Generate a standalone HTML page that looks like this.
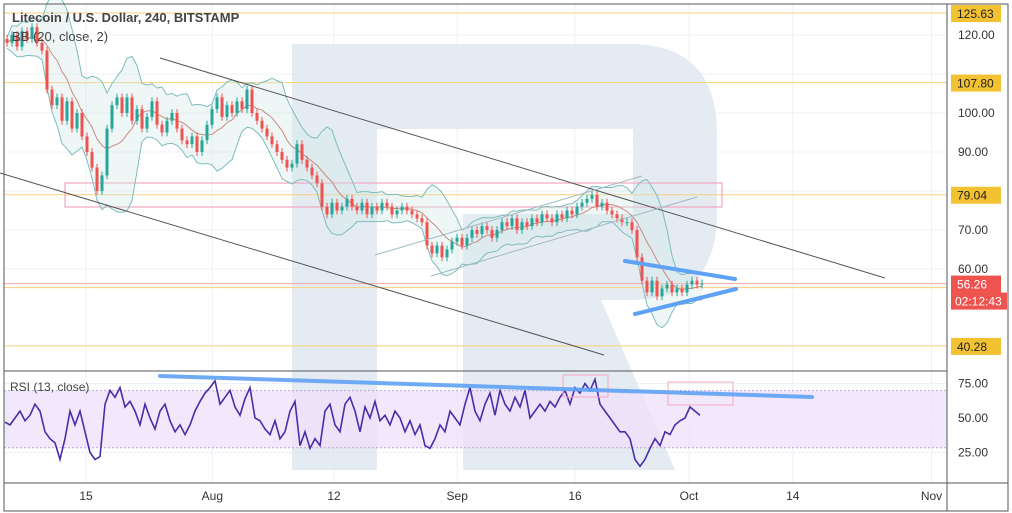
<!DOCTYPE html>
<html><head><meta charset="utf-8"><style>
body{margin:0;background:#fff;font-family:"Liberation Sans",sans-serif}
svg{display:block}
</style></head><body>
<svg id="c" width="1012" height="513" viewBox="0 0 1012 513" xmlns="http://www.w3.org/2000/svg">
<rect width="1012" height="513" fill="#fff"/>
<g id="grid"></g>
<path d="M292 44 H630 Q717 44 717 134 V215 Q717 300 630 300 H601 L675 470 H463 V214 H633 V129 H377 V470 H292 Z" fill="#dfe6f0" fill-opacity="0.8"/>
<rect x="4" y="390.6" width="943" height="57" fill="#ede0fb" fill-opacity="0.75"/>
<line x1="4" y1="390.6" x2="947" y2="390.6" stroke="#b9a6d6" stroke-dasharray="2,2"/>
<line x1="4" y1="447.7" x2="947" y2="447.7" stroke="#b9a6d6" stroke-dasharray="2,2"/>
<g id="levels"></g>
<rect x="65" y="183" width="657" height="24" fill="none" stroke="#f4a7bf" stroke-width="1.2"/>
<g id="bb"></g>
<g id="candles"></g>
<g>
<line x1="160" y1="58" x2="885" y2="278" stroke="#555" stroke-width="1"/>
<line x1="0" y1="173" x2="604" y2="355" stroke="#555" stroke-width="1"/>
<line x1="375" y1="255" x2="642" y2="176" stroke="#9fb8c4" stroke-width="1"/>
<line x1="431" y1="276" x2="697" y2="197" stroke="#9fb8c4" stroke-width="1"/>
<line x1="625" y1="261" x2="735" y2="279" stroke="#5fa2f4" stroke-width="4" stroke-linecap="round"/>
<line x1="635" y1="314" x2="736" y2="289" stroke="#5fa2f4" stroke-width="4" stroke-linecap="round"/>
</g>
<g id="rsi"></g>
<rect x="563" y="375" width="45" height="22" fill="none" stroke="#f4a7bf"/>
<rect x="668" y="382" width="65" height="23" fill="none" stroke="#f4a7bf"/>
<line x1="160" y1="376" x2="812" y2="397" stroke="#5fa2f4" stroke-width="4" stroke-linecap="round" stroke-opacity="0.9"/>
<line x1="4" y1="371" x2="947" y2="371" stroke="#555" stroke-width="1"/>
<line x1="4" y1="483" x2="1008" y2="483" stroke="#555" stroke-width="1"/>
<line x1="947" y1="4" x2="947" y2="511" stroke="#555" stroke-width="1"/>
<rect x="4" y="4" width="1004" height="507" fill="none" stroke="#555"/>
<g id="axis"></g>
<text x="12" y="22" font-size="13" font-weight="bold" fill="#444">Litecoin / U.S. Dollar, 240, BITSTAMP</text>
<text x="12" y="41" font-size="13" fill="#444">BB (20, close, 2)</text>
<text x="10" y="391" font-size="12" fill="#444">RSI (13, close)</text>
</svg>
<script>
const closes=[118,120,117,121,119,122,118,116,106,102,104,98,103,96,100,94,90,86,80,84,96,102,104,100,104,98,101,96,99,103,97,95,98,100,96,93,92,94,90,93,97,101,104,99,102,100,103,101,106,100,98,96,94,92,90,88,86,87,92,88,86,84,82,76,74,77,75,76,78,76,75,77,74,76,75,77,76,74,75,76,75,74,73,72,66,64,66,63,65,67,68,66,68,70,69,71,70,68,70,72,71,73,70,72,71,73,72,74,73,72,74,73,75,74,76,77,78,79,76,77,75,74,73,72,72,70,63,57,54,57,53,55,56,54,55,54,56,57,56,56.26];
const rsiVals=[47,45,50,55,48,52,60,55,40,35,32,20,35,55,45,55,40,25,20,22,60,70,65,72,58,62,55,45,60,50,42,55,60,48,40,45,38,45,55,62,68,72,77,60,65,70,58,52,64,72,50,48,42,38,48,35,40,55,62,30,40,28,35,30,55,60,45,40,60,65,55,40,58,50,62,48,52,45,55,50,40,48,38,45,30,28,35,45,40,55,50,45,60,72,55,48,60,68,52,70,60,55,65,58,70,50,55,60,55,62,58,65,70,60,72,68,75,70,78,60,55,50,45,40,40,35,20,15,20,28,35,30,40,38,45,48,50,58,55,52];
const priceTicks=[120,110,100,90,80,70,60];
const rsiTicks=[75,50,25];
const dateLabels=["15","Aug","12","Sep","16","Oct","14","Nov"];
const dateDays=[0,16.3,32,47.9,63.1,77.8,91.2,109.1];
const levelPrices=[125.63,107.80,79.04,55.21,40.28];
const NS="http://www.w3.org/2000/svg";
const py=p=>35+(120-p)*3.9;
const ry=v=>418-(v-50)*1.38;
const dx=d=>86+d*7.75;
const cx=i=>7+i*5;
function mk(t,a,parent){const e=document.createElementNS(NS,t);for(const k in a)e.setAttribute(k,a[k]);parent.appendChild(e);return e;}
const grid=document.getElementById('grid'),axis=document.getElementById('axis');
priceTicks.forEach(p=>{
 const l=mk('line',{x1:4,x2:947,y1:py(p),y2:py(p),stroke:'#eef1f5'},grid);
 
 
 if(levelPrices.some(q=>Math.abs(py(q)-py(p))<14))return;
 const t=mk('text',{x:958,y:py(p)+4,'font-size':12,fill:'#333'},axis);t.textContent=p.toFixed(2);
 
 
});
rsiTicks.forEach(v=>{
 const l=mk('line',{x1:4,x2:947,y1:ry(v),y2:ry(v),stroke:'#eef1f5'},grid);
 
 
 const t=mk('text',{x:958,y:ry(v)+4,'font-size':12,fill:'#333'},axis);t.textContent=v.toFixed(2);
 
 
});
dateLabels.forEach((lab,i)=>{
 const x=dx(dateDays[i]);
 const l=mk('line',{x1:x,x2:x,y1:4,y2:483,stroke:'#eef1f5'},grid);
 
 
 const t=mk('text',{x:x,y:500,'font-size':12,fill:'#333','text-anchor':'middle'},axis);t.textContent=lab;
 
 
});
const lv=document.getElementById('levels');
levelPrices.forEach(p=>{
 const l=mk('line',{x1:4,x2:947,y1:py(p),y2:py(p),stroke:'#f5d27a','stroke-width':1},lv);
 
 
 const r=mk('rect',{x:951,y:py(p)-8,width:50,height:17,fill:'#f2c232'},axis);
 
 
 const t=mk('text',{x:957,y:py(p)+5,'font-size':12,fill:'#222'},axis);t.textContent=p.toFixed(2);
 
 
});
const last=closes[closes.length-1];
const pl=mk('line',{x1:4,x2:947,y1:py(last),y2:py(last),stroke:'#f4a7a7'},lv);


const lr=mk('rect',{x:951,y:py(last)-8,width:50,height:17,fill:'#ef5350'},axis);


const lt=mk('text',{x:957,y:py(last)+5,'font-size':12,fill:'#fff'},axis);lt.textContent=last.toFixed(2);


const cr=mk('rect',{x:951,y:py(last)+9,width:56,height:17,fill:'#ef5350'},axis);


const ct=mk('text',{x:955,y:py(last)+22,'font-size':12,fill:'#fff'},axis);ct.textContent='02:12:43';


const bb=document.getElementById('bb');
let up=[],lo=[],mid=[];
closes.forEach((c,i)=>{const s=closes.slice(Math.max(0,i-7),i+1);const m=s.reduce((a,b)=>a+b,0)/s.length;const sd=Math.sqrt(s.reduce((a,b)=>a+(b-m)*(b-m),0)/s.length)+0.7;mid.push([cx(i),py(m)]);up.push([cx(i),py(m+2*sd)]);lo.push([cx(i),py(m-2*sd)]);});
const fillPts=up.concat(lo.slice().reverse()).map(p=>p.join(',')).join(' ');
const bf=mk('polygon',{points:fillPts,fill:'#cfe9e6','fill-opacity':0.35},bb);


[[up,'bb-upper','#7fbcbc'],[lo,'bb-lower','#7fbcbc'],[mid,'bb-basis','#c98a80']].forEach(([arr,n,col])=>{
 const l=mk('polyline',{points:arr.map(p=>p.join(',')).join(' '),fill:'none',stroke:col,'stroke-width':1},bb);
 
 
});
const cg=document.getElementById('candles');
closes.forEach((c,i)=>{
 const o=i?closes[i-1]:c+1;const col=c>=o?'#26a69a':'#ef5350';
 const hi=Math.max(o,c)+1,low=Math.min(o,c)-1;
 const w=mk('line',{x1:cx(i),x2:cx(i),y1:py(hi),y2:py(low),stroke:col},cg);
 
 
 const b=mk('rect',{x:cx(i)-1.5,y:py(Math.max(o,c)),width:3,height:Math.max(1,Math.abs(py(o)-py(c))),fill:col},cg);
 
 
});
const rg=document.getElementById('rsi');
const rl=mk('polyline',{points:rsiVals.map((v,i)=>(5+i*5)+','+ry(v)).join(' '),fill:'none',stroke:'#4a2ca8','stroke-width':1.6},rg);


</script>
</body></html>
